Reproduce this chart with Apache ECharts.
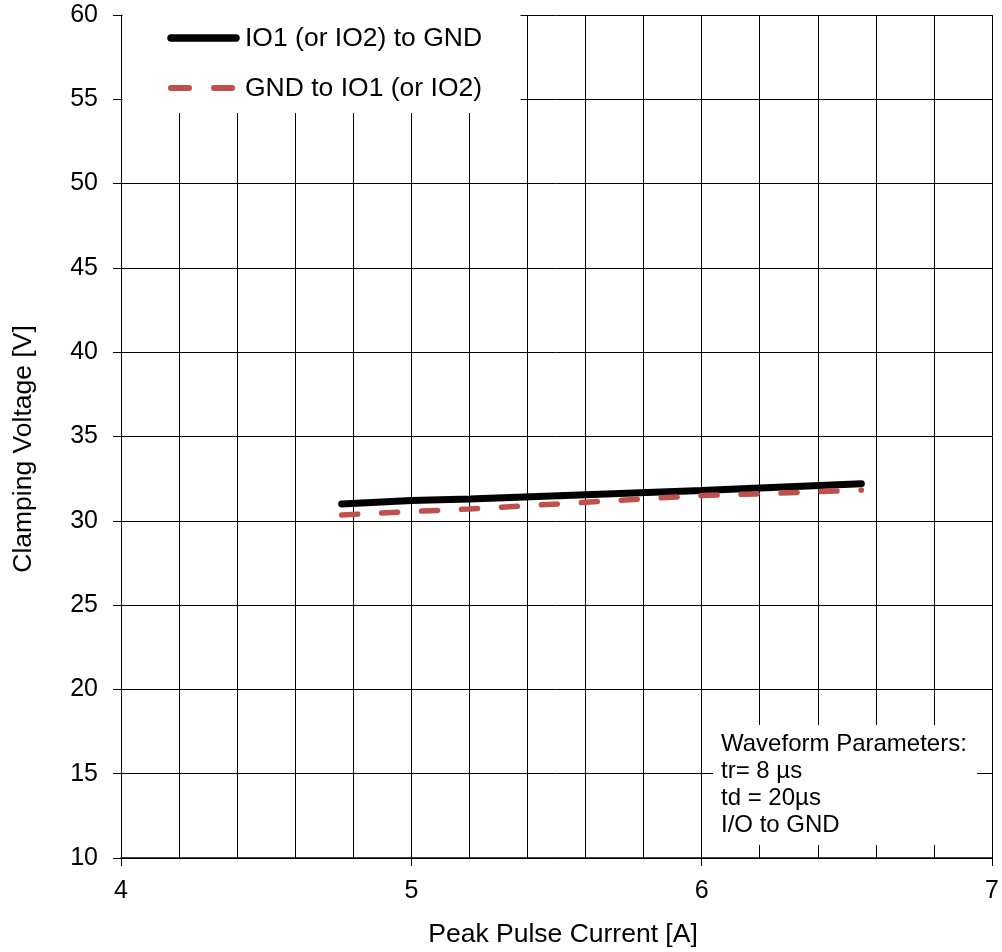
<!DOCTYPE html>
<html>
<head>
<meta charset="utf-8">
<script src="https://cdn.jsdelivr.net/npm/echarts@6/dist/echarts.min.js"></script>
<style>html,body{margin:0;padding:0;background:#fff;}#c{width:1002px;height:952px;}</style>
</head>
<body>
<div id="c"></div>
<script>
const seriesNames = ['IO1 (or IO2) to GND', 'GND to IO1 (or IO2)'];
const blackX = [4.76, 5.0, 5.2, 5.6, 6.0, 6.2, 6.55];
const blackY = [31.0, 31.2, 31.3, 31.55, 31.8, 31.95, 32.2];
const redX = [4.76, 5.0, 5.2, 5.6, 6.0, 6.2, 6.55];
const redY = [30.35, 30.55, 30.7, 31.1, 31.5, 31.6, 31.82];
const noteLines = ['Waveform Parameters:', 'tr= 8 \u00b5s', 'td = 20\u00b5s', 'I/O to GND'];
const xTitle = 'Peak Pulse Current [A]';
const yTitle = 'Clamping Voltage [V]';

const FONT = '"Liberation Sans", Arial, sans-serif';
const chart = echarts.init(document.getElementById('c'), null, {renderer: 'canvas'});
const zip = (xs, ys) => xs.map((x, i) => [x, ys[i]]);

chart.setOption({
  animation: false,
  backgroundColor: '#fff',
  grid: {left: 121, right: 10, top: 15, bottom: 94, containLabel: false, outerBoundsMode: 'none'},
  xAxis: {
    type: 'value', min: 4, max: 7, interval: 1,
    axisLine: {show: true, lineStyle: {color: '#000', width: 1.5}},
    axisTick: {show: true, length: 8, lineStyle: {color: '#000', width: 1}},
    axisLabel: {fontFamily: FONT, fontSize: 25, color: '#000', margin: 21},
    splitLine: {show: true, lineStyle: {color: '#000', width: 1}},
    minorTick: {show: false, splitNumber: 5},
    minorSplitLine: {show: true, lineStyle: {color: '#000', width: 1}}
  },
  yAxis: {
    type: 'value', min: 10, max: 60, interval: 5,
    axisLine: {show: true, lineStyle: {color: '#000', width: 1}},
    axisTick: {show: true, length: 8, lineStyle: {color: '#000', width: 1}},
    axisLabel: {fontFamily: FONT, fontSize: 25, color: '#000', margin: 23},
    splitLine: {show: true, lineStyle: {color: '#000', width: 1}}
  },
  graphic: [
    {type: 'rect', z: 5, shape: {x: 122.5, y: 13, width: 398, height: 100}, style: {fill: '#fff'}},
    {type: 'rect', z: 5, shape: {x: 713, y: 725, width: 264, height: 120}, style: {fill: '#fff'}},
    // legend
    {type: 'line', z: 6, shape: {x1: 171, y1: 38, x2: 236, y2: 38},
      style: {stroke: '#000', lineWidth: 7.5, lineCap: 'round'}},
    {type: 'text', z: 6, left: 245, top: 25,
      style: {text: seriesNames[0], font: '26.5px ' + FONT, fill: '#000'}},
    {type: 'line', z: 6, shape: {x1: 171, y1: 88, x2: 232, y2: 88},
      style: {stroke: '#c0504d', lineWidth: 6, lineCap: 'round', lineDash: [18, 25]}},
    {type: 'text', z: 6, left: 245, top: 75,
      style: {text: seriesNames[1], font: '26.5px ' + FONT, fill: '#000'}},
    // note
    {type: 'text', z: 6, left: 721, top: 731,
      style: {text: noteLines.join('\n'), font: '24px ' + FONT, lineHeight: 27, fill: '#000'}},
    // axis titles
    {type: 'text', z: 6, x: 24, y: 449, rotation: Math.PI / 2,
      style: {text: yTitle, font: '26.5px ' + FONT, fill: '#000', align: 'center', verticalAlign: 'middle'}},
    {type: 'text', z: 6, x: 563, y: 935,
      style: {text: xTitle, font: '26.5px ' + FONT, fill: '#000', align: 'center', verticalAlign: 'middle'}}
  ],
  series: [
    {name: seriesNames[0], type: 'line', data: zip(blackX, blackY), symbol: 'none', smooth: false, z: 7,
      lineStyle: {color: '#000', width: 7, cap: 'round'}, itemStyle: {color: '#000'}},
    {name: seriesNames[1], type: 'line', data: zip(redX, redY), symbol: 'none', smooth: false, z: 7,
      lineStyle: {color: '#c0504d', width: 5.5, type: [16, 24], cap: 'round'}, itemStyle: {color: '#c0504d'}}
  ]
});
</script>
</body>
</html>
